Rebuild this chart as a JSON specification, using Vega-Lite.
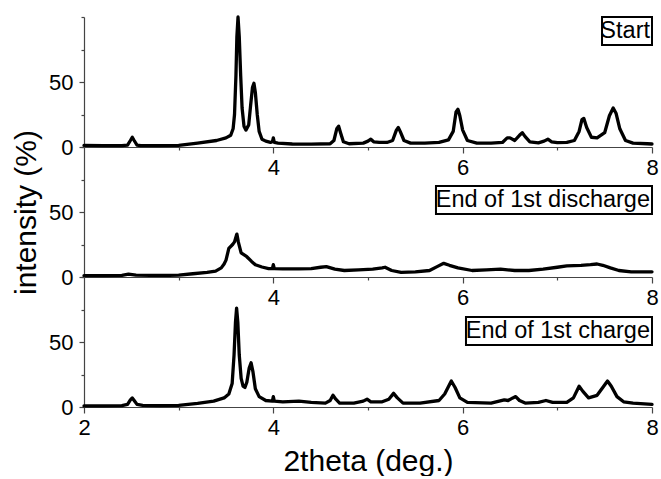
{
  "$schema": "https://vega.github.io/schema/vega-lite/v6.json",
  "background": "white",
  "padding": {"left": 11, "top": 15, "right": 5, "bottom": 0},
  "config": {
    "view": {"stroke": null},
    "font": "Liberation Sans",
    "axis": {"grid": false, "domainColor": "#444", "tickColor": "#444", "labelColor": "#000", "titleColor": "#000", "labelFont": "Liberation Sans", "titleFont": "Liberation Sans", "labelFontSize": 22, "titleFontSize": 30, "titleFontWeight": "normal", "domainWidth": 1.2, "tickWidth": 1.2}
  },
  "datasets": {
    "start": [
      {"theta": 2.00, "intensity": 1.2}, {"theta": 2.20, "intensity": 1.0}, {"theta": 2.40, "intensity": 1.0},
      {"theta": 2.46, "intensity": 1.5}, {"theta": 2.49, "intensity": 5}, {"theta": 2.51, "intensity": 7.5},
      {"theta": 2.53, "intensity": 5}, {"theta": 2.56, "intensity": 1.5}, {"theta": 2.60, "intensity": 1.0},
      {"theta": 2.80, "intensity": 1.0}, {"theta": 3.00, "intensity": 1.3}, {"theta": 3.20, "intensity": 3.0},
      {"theta": 3.40, "intensity": 5.0}, {"theta": 3.50, "intensity": 7}, {"theta": 3.55, "intensity": 9},
      {"theta": 3.575, "intensity": 14}, {"theta": 3.59, "intensity": 25}, {"theta": 3.605, "intensity": 55},
      {"theta": 3.615, "intensity": 85}, {"theta": 3.627, "intensity": 100}, {"theta": 3.64, "intensity": 85},
      {"theta": 3.655, "intensity": 55}, {"theta": 3.67, "intensity": 30}, {"theta": 3.69, "intensity": 16},
      {"theta": 3.71, "intensity": 13}, {"theta": 3.74, "intensity": 17}, {"theta": 3.76, "intensity": 32},
      {"theta": 3.78, "intensity": 46}, {"theta": 3.795, "intensity": 49}, {"theta": 3.81, "intensity": 42},
      {"theta": 3.83, "intensity": 25}, {"theta": 3.85, "intensity": 12}, {"theta": 3.88, "intensity": 6},
      {"theta": 3.92, "intensity": 4.5}, {"theta": 3.97, "intensity": 3.5}, {"theta": 3.99, "intensity": 4},
      {"theta": 4.00, "intensity": 7}, {"theta": 4.01, "intensity": 3.5}, {"theta": 4.05, "intensity": 3},
      {"theta": 4.20, "intensity": 2.3}, {"theta": 4.40, "intensity": 2.2}, {"theta": 4.60, "intensity": 2.5},
      {"theta": 4.64, "intensity": 5}, {"theta": 4.67, "intensity": 14}, {"theta": 4.69, "intensity": 16},
      {"theta": 4.71, "intensity": 11}, {"theta": 4.74, "intensity": 4}, {"theta": 4.80, "intensity": 2.5},
      {"theta": 4.95, "intensity": 3}, {"theta": 5.00, "intensity": 4.5}, {"theta": 5.03, "intensity": 6},
      {"theta": 5.06, "intensity": 4}, {"theta": 5.12, "intensity": 3.5}, {"theta": 5.20, "intensity": 3.5},
      {"theta": 5.26, "intensity": 5}, {"theta": 5.30, "intensity": 13}, {"theta": 5.32, "intensity": 15},
      {"theta": 5.34, "intensity": 12}, {"theta": 5.38, "intensity": 5}, {"theta": 5.45, "intensity": 3},
      {"theta": 5.60, "intensity": 3}, {"theta": 5.75, "intensity": 3.5}, {"theta": 5.85, "intensity": 5.5},
      {"theta": 5.90, "intensity": 12}, {"theta": 5.93, "intensity": 27}, {"theta": 5.95, "intensity": 29},
      {"theta": 5.97, "intensity": 24}, {"theta": 6.00, "intensity": 13}, {"theta": 6.05, "intensity": 5},
      {"theta": 6.15, "intensity": 3}, {"theta": 6.30, "intensity": 3}, {"theta": 6.42, "intensity": 3.5},
      {"theta": 6.47, "intensity": 7}, {"theta": 6.50, "intensity": 7}, {"theta": 6.55, "intensity": 5},
      {"theta": 6.60, "intensity": 9}, {"theta": 6.63, "intensity": 11}, {"theta": 6.66, "intensity": 8},
      {"theta": 6.71, "intensity": 4}, {"theta": 6.80, "intensity": 3.2}, {"theta": 6.86, "intensity": 4.5},
      {"theta": 6.90, "intensity": 6}, {"theta": 6.94, "intensity": 4}, {"theta": 7.00, "intensity": 3.3},
      {"theta": 7.10, "intensity": 3.5}, {"theta": 7.18, "intensity": 5}, {"theta": 7.23, "intensity": 12},
      {"theta": 7.26, "intensity": 21}, {"theta": 7.28, "intensity": 22}, {"theta": 7.31, "intensity": 15},
      {"theta": 7.36, "intensity": 7.5}, {"theta": 7.42, "intensity": 7}, {"theta": 7.50, "intensity": 11},
      {"theta": 7.55, "intensity": 24}, {"theta": 7.59, "intensity": 30}, {"theta": 7.62, "intensity": 26},
      {"theta": 7.66, "intensity": 14}, {"theta": 7.72, "intensity": 5}, {"theta": 7.80, "intensity": 3},
      {"theta": 7.95, "intensity": 2.5}, {"theta": 8.00, "intensity": 2.3}
    ],
    "discharge": [
      {"theta": 2.00, "intensity": 1}, {"theta": 2.20, "intensity": 1}, {"theta": 2.40, "intensity": 1.2},
      {"theta": 2.47, "intensity": 2.2}, {"theta": 2.55, "intensity": 1.5}, {"theta": 2.70, "intensity": 1.2},
      {"theta": 2.90, "intensity": 1.3}, {"theta": 3.00, "intensity": 1.5}, {"theta": 3.15, "intensity": 2.5},
      {"theta": 3.30, "intensity": 3.5}, {"theta": 3.39, "intensity": 4.5}, {"theta": 3.45, "intensity": 7},
      {"theta": 3.48, "intensity": 10}, {"theta": 3.50, "intensity": 13}, {"theta": 3.53, "intensity": 22},
      {"theta": 3.57, "intensity": 25}, {"theta": 3.59, "intensity": 27}, {"theta": 3.61, "intensity": 32},
      {"theta": 3.615, "intensity": 33}, {"theta": 3.63, "intensity": 27}, {"theta": 3.66, "intensity": 18.5},
      {"theta": 3.72, "intensity": 15.6}, {"theta": 3.77, "intensity": 12}, {"theta": 3.81, "intensity": 9.4},
      {"theta": 3.88, "intensity": 7.7}, {"theta": 3.95, "intensity": 6.5}, {"theta": 3.99, "intensity": 6.5},
      {"theta": 4.00, "intensity": 9.5}, {"theta": 4.01, "intensity": 6.5}, {"theta": 4.10, "intensity": 6.2},
      {"theta": 4.27, "intensity": 6.3}, {"theta": 4.40, "intensity": 6.5}, {"theta": 4.50, "intensity": 7.5},
      {"theta": 4.56, "intensity": 8}, {"theta": 4.65, "intensity": 6}, {"theta": 4.75, "intensity": 5},
      {"theta": 4.90, "intensity": 5.5}, {"theta": 5.05, "intensity": 6}, {"theta": 5.15, "intensity": 7},
      {"theta": 5.18, "intensity": 7.5}, {"theta": 5.25, "intensity": 5}, {"theta": 5.35, "intensity": 3.5},
      {"theta": 5.50, "intensity": 4}, {"theta": 5.65, "intensity": 5}, {"theta": 5.73, "intensity": 8},
      {"theta": 5.80, "intensity": 10.5}, {"theta": 5.86, "intensity": 9}, {"theta": 5.95, "intensity": 7},
      {"theta": 6.10, "intensity": 5}, {"theta": 6.25, "intensity": 5.5}, {"theta": 6.40, "intensity": 6},
      {"theta": 6.55, "intensity": 5}, {"theta": 6.70, "intensity": 5}, {"theta": 6.85, "intensity": 6},
      {"theta": 7.00, "intensity": 7.5}, {"theta": 7.10, "intensity": 8.5}, {"theta": 7.25, "intensity": 9},
      {"theta": 7.35, "intensity": 9.5}, {"theta": 7.42, "intensity": 10}, {"theta": 7.48, "intensity": 9},
      {"theta": 7.56, "intensity": 7}, {"theta": 7.65, "intensity": 5}, {"theta": 7.78, "intensity": 4},
      {"theta": 8.00, "intensity": 4}
    ],
    "charge": [
      {"theta": 2.00, "intensity": 0.8}, {"theta": 2.20, "intensity": 0.8}, {"theta": 2.40, "intensity": 1},
      {"theta": 2.46, "intensity": 2}, {"theta": 2.49, "intensity": 5.5}, {"theta": 2.51, "intensity": 7},
      {"theta": 2.53, "intensity": 5}, {"theta": 2.56, "intensity": 2}, {"theta": 2.62, "intensity": 1.2},
      {"theta": 2.80, "intensity": 1}, {"theta": 3.00, "intensity": 1.3}, {"theta": 3.20, "intensity": 2.8},
      {"theta": 3.37, "intensity": 4.5}, {"theta": 3.48, "intensity": 7}, {"theta": 3.53, "intensity": 10},
      {"theta": 3.565, "intensity": 18}, {"theta": 3.585, "intensity": 40}, {"theta": 3.60, "intensity": 65},
      {"theta": 3.612, "intensity": 76}, {"theta": 3.625, "intensity": 65}, {"theta": 3.64, "intensity": 40},
      {"theta": 3.66, "intensity": 22}, {"theta": 3.68, "intensity": 16}, {"theta": 3.70, "intensity": 15},
      {"theta": 3.72, "intensity": 19}, {"theta": 3.745, "intensity": 30}, {"theta": 3.765, "intensity": 34},
      {"theta": 3.785, "intensity": 27}, {"theta": 3.81, "intensity": 14}, {"theta": 3.85, "intensity": 8},
      {"theta": 3.92, "intensity": 5}, {"theta": 3.99, "intensity": 4.5}, {"theta": 4.00, "intensity": 8},
      {"theta": 4.01, "intensity": 4.5}, {"theta": 4.10, "intensity": 4}, {"theta": 4.27, "intensity": 4.5},
      {"theta": 4.40, "intensity": 3.5}, {"theta": 4.55, "intensity": 3}, {"theta": 4.60, "intensity": 5},
      {"theta": 4.63, "intensity": 9}, {"theta": 4.66, "intensity": 6}, {"theta": 4.70, "intensity": 3},
      {"theta": 4.85, "intensity": 3}, {"theta": 4.95, "intensity": 4.5}, {"theta": 4.99, "intensity": 6},
      {"theta": 5.03, "intensity": 4}, {"theta": 5.15, "intensity": 4}, {"theta": 5.22, "intensity": 6},
      {"theta": 5.27, "intensity": 10.5}, {"theta": 5.31, "intensity": 7}, {"theta": 5.37, "intensity": 3},
      {"theta": 5.55, "intensity": 3}, {"theta": 5.75, "intensity": 5}, {"theta": 5.81, "intensity": 10},
      {"theta": 5.88, "intensity": 20}, {"theta": 5.92, "intensity": 15}, {"theta": 5.97, "intensity": 7},
      {"theta": 6.05, "intensity": 3.5}, {"theta": 6.30, "intensity": 3}, {"theta": 6.44, "intensity": 5.5},
      {"theta": 6.48, "intensity": 5}, {"theta": 6.53, "intensity": 7}, {"theta": 6.56, "intensity": 8},
      {"theta": 6.60, "intensity": 5}, {"theta": 6.66, "intensity": 3}, {"theta": 6.80, "intensity": 3.5},
      {"theta": 6.88, "intensity": 5}, {"theta": 6.95, "intensity": 3.5}, {"theta": 7.10, "intensity": 3.5},
      {"theta": 7.17, "intensity": 7}, {"theta": 7.23, "intensity": 16}, {"theta": 7.27, "intensity": 12},
      {"theta": 7.33, "intensity": 7}, {"theta": 7.42, "intensity": 9}, {"theta": 7.48, "intensity": 15},
      {"theta": 7.53, "intensity": 20}, {"theta": 7.57, "intensity": 16}, {"theta": 7.63, "intensity": 8},
      {"theta": 7.70, "intensity": 4}, {"theta": 7.80, "intensity": 3}, {"theta": 8.00, "intensity": 2}
    ]
  },
  "vconcat": [
    {
      "width": 568, "height": 130,
      "layer": [
        {
          "data": {"name": "start"},
          "mark": {"type": "line", "color": "black", "strokeWidth": 3.3, "strokeJoin": "round", "strokeCap": "round"},
          "encoding": {
            "x": {"field": "theta", "type": "quantitative", "scale": {"domain": [2, 8], "nice": false, "zero": false}, "axis": {"values": [4, 6, 8], "tickSize": 6, "labelPadding": 4, "labelFlush": false, "title": null}},
            "y": {"field": "intensity", "type": "quantitative", "scale": {"domain": [0, 100], "nice": false}, "axis": {"values": [0, 50], "tickSize": 5, "labelPadding": 6, "title": null}}
          }
        },
        {
          "data": {"values": [{"label": "Start"}]},
          "mark": {"type": "rect", "fill": "white", "stroke": "black", "strokeWidth": 2},
          "encoding": {
            "x": {"datum": 7.472, "type": "quantitative", "axis": {"orient": "bottom", "values": [3, 5, 7], "tickSize": 3, "labels": false, "domain": false, "title": null}},
            "x2": {"datum": 8.0},
            "y": {"datum": 100, "type": "quantitative", "axis": {"orient": "left", "values": [25, 75, 100], "tickSize": 3, "labels": false, "domain": false, "title": null}},
            "y2": {"datum": 78.5}
          }
        },
        {
          "data": {"values": [{"label": "Start"}]},
          "mark": {"type": "text", "align": "right", "baseline": "middle", "dx": -2, "fontSize": 23.5, "font": "Liberation Sans", "color": "black"},
          "encoding": {
            "x": {"datum": 8, "type": "quantitative", "axis": null},
            "y": {"datum": 89.2, "type": "quantitative", "axis": null},
            "text": {"field": "label"}
          }
        }
      ],
      "resolve": {"axis": {"x": "independent", "y": "independent"}}
    },
    {
      "width": 568, "height": 130,
      "layer": [
        {
          "data": {"name": "discharge"},
          "mark": {"type": "line", "color": "black", "strokeWidth": 3.3, "strokeJoin": "round", "strokeCap": "round"},
          "encoding": {
            "x": {"field": "theta", "type": "quantitative", "scale": {"domain": [2, 8], "nice": false, "zero": false}, "axis": {"values": [4, 6, 8], "tickSize": 6, "labelPadding": 4, "labelFlush": false, "title": null}},
            "y": {"field": "intensity", "type": "quantitative", "scale": {"domain": [0, 100], "nice": false}, "axis": {"values": [0, 50], "tickSize": 5, "labelPadding": 6, "title": "intensity (%)", "titlePadding": 7}}
          }
        },
        {
          "data": {"values": [{"label": "End of 1st discharge"}]},
          "mark": {"type": "rect", "fill": "white", "stroke": "black", "strokeWidth": 2},
          "encoding": {
            "x": {"datum": 5.718, "type": "quantitative", "axis": {"orient": "bottom", "values": [3, 5, 7], "tickSize": 3, "labels": false, "domain": false, "title": null}},
            "x2": {"datum": 8.0},
            "y": {"datum": 70, "type": "quantitative", "axis": {"orient": "left", "values": [25, 75, 100], "tickSize": 3, "labels": false, "domain": false, "title": null}},
            "y2": {"datum": 48.5}
          }
        },
        {
          "data": {"values": [{"label": "End of 1st discharge"}]},
          "mark": {"type": "text", "align": "right", "baseline": "middle", "dx": -2, "fontSize": 23.5, "font": "Liberation Sans", "color": "black"},
          "encoding": {
            "x": {"datum": 8, "type": "quantitative", "axis": null},
            "y": {"datum": 59.2, "type": "quantitative", "axis": null},
            "text": {"field": "label"}
          }
        }
      ],
      "resolve": {"axis": {"x": "independent", "y": "independent"}}
    },
    {
      "width": 568, "height": 130,
      "layer": [
        {
          "data": {"name": "charge"},
          "mark": {"type": "line", "color": "black", "strokeWidth": 3.3, "strokeJoin": "round", "strokeCap": "round"},
          "encoding": {
            "x": {"field": "theta", "type": "quantitative", "scale": {"domain": [2, 8], "nice": false, "zero": false}, "axis": {"values": [2, 4, 6, 8], "tickSize": 6, "labelPadding": 4, "labelFlush": false, "title": "2theta (deg.)", "titlePadding": 8}},
            "y": {"field": "intensity", "type": "quantitative", "scale": {"domain": [0, 100], "nice": false}, "axis": {"values": [0, 50], "tickSize": 5, "labelPadding": 6, "title": null}}
          }
        },
        {
          "data": {"values": [{"label": "End of 1st charge"}]},
          "mark": {"type": "rect", "fill": "white", "stroke": "black", "strokeWidth": 2},
          "encoding": {
            "x": {"datum": 6.035, "type": "quantitative", "axis": {"orient": "bottom", "values": [3, 5, 7], "tickSize": 3, "labels": false, "domain": false, "title": null}},
            "x2": {"datum": 8.0},
            "y": {"datum": 69.2, "type": "quantitative", "axis": {"orient": "left", "values": [25, 75, 100], "tickSize": 3, "labels": false, "domain": false, "title": null}},
            "y2": {"datum": 47.7}
          }
        },
        {
          "data": {"values": [{"label": "End of 1st charge"}]},
          "mark": {"type": "text", "align": "right", "baseline": "middle", "dx": -2, "fontSize": 23.5, "font": "Liberation Sans", "color": "black"},
          "encoding": {
            "x": {"datum": 8, "type": "quantitative", "axis": null},
            "y": {"datum": 58.5, "type": "quantitative", "axis": null},
            "text": {"field": "label"}
          }
        }
      ],
      "resolve": {"axis": {"x": "independent", "y": "independent"}}
    }
  ],
  "spacing": 0,
  "bounds": "flush"
}
